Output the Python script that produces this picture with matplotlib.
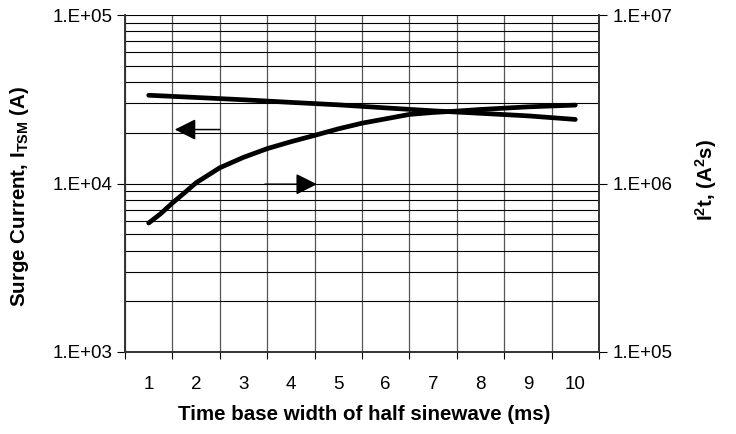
import numpy as np
import matplotlib
matplotlib.use("Agg")
import matplotlib.pyplot as plt
from matplotlib.ticker import FixedLocator, FuncFormatter, NullFormatter

plt.rcParams['font.family'] = ['Liberation Sans', 'DejaVu Sans']
plt.rcParams['mathtext.fontset'] = 'custom'
plt.rcParams['mathtext.rm'] = 'Liberation Sans:bold'
plt.rcParams['mathtext.bf'] = 'Liberation Sans:bold'
plt.rcParams['mathtext.it'] = 'Liberation Sans:bold'
plt.rcParams['mathtext.default'] = 'bf'

# ---- data ----
categories = [1, 2, 3, 4, 5, 6, 7, 8, 9, 10]
surge_time = [1, 2, 3, 4, 5, 6, 7, 8, 9, 10]
surge_current = [33400, 32400, 31400, 30300, 29300, 28100, 27000, 26100, 25200, 24000]
i2t_time = [1.0, 1.25, 1.5, 1.75, 2.0, 2.5, 3.0, 3.5, 4.0, 4.5, 5.0, 5.5,
            6.0, 6.5, 7.0, 7.5, 8.0, 9.0, 10.0]
i2t = [5.83e5, 6.61e5, 7.66e5, 8.78e5, 1.01e6, 1.24e6, 1.43e6, 1.61e6, 1.77e6, 1.93e6,
       2.11e6, 2.28e6, 2.42e6, 2.57e6, 2.64e6, 2.69e6, 2.75e6, 2.85e6, 2.92e6]

def sci_label(v, pos):
    e = int(round(np.log10(v)))
    return "1.E+%02d" % e

fig = plt.figure(figsize=(7.36, 4.34), dpi=100)
ax = fig.add_axes([125/736, 1-352/434, (599-125)/736, (352-15)/434])
ax2 = ax.twinx()

ax.set_xlim(0.5, 10.5)
ax.set_yscale("log")
ax.set_ylim(1e3, 1e5)
ax2.set_yscale("log")
ax2.set_ylim(1e5, 1e7)

# grid: vertical at category boundaries, horizontal at decades and minor steps
ax.xaxis.set_major_locator(FixedLocator(np.arange(0.5, 11, 1)))
ax.xaxis.set_major_formatter(NullFormatter())
ax.xaxis.set_minor_locator(FixedLocator(categories))
ax.xaxis.set_minor_formatter(FuncFormatter(lambda v, p: "%d" % v))
ax.tick_params(axis="x", which="major", length=5, width=0.8, direction="out")
ax.tick_params(axis="x", which="minor", length=0, pad=17, labelsize=13.5)
ax.grid(True, axis="x", which="major", color="#555555", lw=0.9)

ax.yaxis.set_major_locator(FixedLocator([1e3, 1e4, 1e5]))
ax.yaxis.set_major_formatter(FuncFormatter(sci_label))
minor_y = [m * 10**d for d in (3, 4) for m in range(2, 10)]
ax.yaxis.set_minor_locator(FixedLocator(minor_y))
ax.yaxis.set_minor_formatter(NullFormatter())
ax.tick_params(axis="y", which="major", length=6, width=0.8, labelsize=13.5, pad=3)
ax.tick_params(axis="y", which="minor", length=0)
ax.grid(True, axis="y", which="both", color="black", lw=0.8)

ax2.yaxis.set_major_locator(FixedLocator([1e5, 1e6, 1e7]))
ax2.yaxis.set_major_formatter(FuncFormatter(sci_label))
ax2.yaxis.set_minor_locator(FixedLocator([]))
ax2.tick_params(axis="y", which="major", length=6, width=0.8, labelsize=13.5, pad=4)

for a in (ax, ax2):
    for s in a.spines.values():
        s.set_linewidth(1.2)
        s.set_color("#333333")
    a.spines["top"].set_visible(False)

ax.set_axisbelow(True)
ax.plot(surge_time, surge_current, color="black", lw=3.4, solid_capstyle="round",
        solid_joinstyle="round", zorder=3)
ax2.plot(i2t_time, i2t, color="black", lw=3.4, solid_capstyle="round",
         solid_joinstyle="round", zorder=3)

# direction arrows
arrow = dict(arrowstyle="-|>,head_length=1.3,head_width=0.65", color="black", lw=1.1,
             shrinkA=0, shrinkB=0)
ax.annotate("", xy=(1.55, 20900), xytext=(2.5, 20900), arrowprops=arrow)
ax.annotate("", xy=(4.55, 9900), xytext=(3.45, 9900), arrowprops=arrow)

ax.set_xlabel("Time base width of half sinewave (ms)", fontsize=14.8, fontweight="bold")
ax.xaxis.set_label_coords(0.504, -0.184)
ax.xaxis.label.set_va("center")
ax.set_ylabel(r"Surge Current, I$_{TSM}$ (A)", fontsize=14.8, fontweight="bold")
ax.yaxis.set_label_coords(-0.222, 0.46)
ax.yaxis.label.set_va("center")
ax2.set_ylabel(r"I$^{2}$t, (A$^{2}$s)", fontsize=14.8, fontweight="bold", rotation=90)
ax2.yaxis.set_label_coords(1.226, 0.51)
ax2.yaxis.label.set_va("center")

fig.savefig("out.png", dpi=100)
